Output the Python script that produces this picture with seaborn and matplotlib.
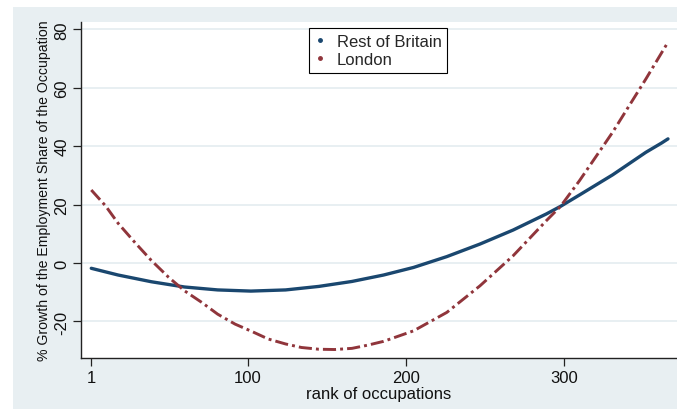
import matplotlib
matplotlib.use("Agg")
import matplotlib.pyplot as plt
import matplotlib.patches as mpatches
from matplotlib.lines import Line2D
from matplotlib import font_manager
import seaborn as sns
import pandas as pd

# ---- data ----
rob_rank = [1, 18, 39, 60, 81, 102, 124, 145, 166, 186, 205, 226, 247, 268, 289,
            298, 310, 331, 352, 362, 366]
rob_growth = [-1.8, -4.1, -6.4, -8.2, -9.2, -9.6, -9.2, -8.0, -6.3, -4.1, -1.5, 2.2,
              6.5, 11.3, 16.8, 19.4, 23.3, 30.2, 37.9, 41.1, 42.5]

lon_rank = [1, 10, 18, 29, 39, 50, 60, 71, 81, 92, 103, 113, 124, 134, 145, 155, 166,
            176, 186, 205, 226, 247, 268, 289, 298, 310, 331, 352, 366]
lon_growth = [25.0, 19.6, 13.6, 6.8, 0.9, -4.9, -9.5, -13.5, -17.5, -20.9, -23.5,
              -26.0, -27.7, -28.9, -29.5, -29.6, -29.2, -28.1, -26.8, -23.2, -16.9,
              -7.8, 2.5, 14.5, 19.4, 28.2, 44.8, 63.0, 75.6]

series_names = ["Rest of Britain", "London"]
xticks = [1, 100, 200, 300]
yticks = [-20, 0, 20, 40, 60, 80]
ylabel = "% Growth of the Employment Share of the Occupation"
xlabel = "rank of occupations"

navy = "#1a476f"
maroon = "#90353b"
bg = "#e8eff2"

sns.set_theme(style="white")
avail = {f.name for f in font_manager.fontManager.ttflist}
base_font = "Liberation Sans" if "Liberation Sans" in avail else "DejaVu Sans"
plt.rcParams["font.family"] = [base_font, "DejaVu Sans"]

fig = plt.figure(figsize=(6.77, 4.10), dpi=100)
fig.patch.set_facecolor("white")
fig.patches.append(mpatches.Rectangle((13 / 677, 0), 664 / 677, 402 / 410,
                                      transform=fig.transFigure, facecolor=bg,
                                      edgecolor="none", zorder=-10))

ax = fig.add_axes([81 / 677, 51 / 410, 596 / 677, 336.3 / 410])
ax.set_facecolor("white")

df_rob = pd.DataFrame({"rank": rob_rank, "growth": rob_growth})
df_lon = pd.DataFrame({"rank": lon_rank, "growth": lon_growth})

sns.lineplot(data=df_rob, x="rank", y="growth", ax=ax, color=navy, lw=2.4,
             sort=True, solid_capstyle="round", solid_joinstyle="round", zorder=3)
sns.lineplot(data=df_lon, x="rank", y="growth", ax=ax, color=maroon, lw=2.1,
             sort=True, linestyle=(0, (4.5, 1.4, 1.0, 1.4)), zorder=3)

ax.set_xlim(-5.5, 371.7)
ax.set_ylim(-32.5, 82.6)
ax.set_xticks(xticks)
ax.set_xticklabels([str(t) for t in xticks], fontsize=12)
ax.set_yticks(yticks)
ax.set_yticklabels([str(t) for t in yticks], fontsize=12, rotation=90, va="center")

for y in yticks:
    ax.axhline(y, color="#e4ecf0", lw=1.2, zorder=1)

for s in ["top", "right"]:
    ax.spines[s].set_visible(False)
for s in ["left", "bottom"]:
    ax.spines[s].set_color("#222222")
    ax.spines[s].set_linewidth(1.0)

ax.tick_params(axis="both", which="major", direction="out", length=5.5, width=0.9,
               color="#222222", labelcolor="#111111", left=True, bottom=True)
ax.tick_params(axis="y", pad=3)
ax.tick_params(axis="x", pad=3)

ax.set_xlabel(xlabel, fontsize=12, labelpad=1, color="#111111")
ax.set_ylabel("")

# y label sized so that it spans about the same length as in the reference
ylab = fig.text(44 / 677, 1 - 191 / 410, ylabel, rotation=90, ha="center", va="center",
                fontsize=12, color="#111111")
fig.canvas.draw()
h = ylab.get_window_extent().height
ylab.set_fontsize(12 * 342 / h)

handles = [Line2D([], [], marker="o", markersize=2.5, linestyle="none", color=navy),
           Line2D([], [], marker="o", markersize=2.5, linestyle="none", color=maroon)]
leg = ax.legend(handles, series_names, loc="upper left", bbox_to_anchor=(0.383, 0.981),
                borderaxespad=0, frameon=True, fancybox=False, fontsize=12,
                handlelength=0.6, handletextpad=0.7, borderpad=0.35, labelspacing=0.2)
leg.get_frame().set_edgecolor("black")
leg.get_frame().set_linewidth(0.8)
leg.get_frame().set_facecolor("white")
leg.get_frame().set_alpha(1)

fig.savefig("out.png", dpi=100)
